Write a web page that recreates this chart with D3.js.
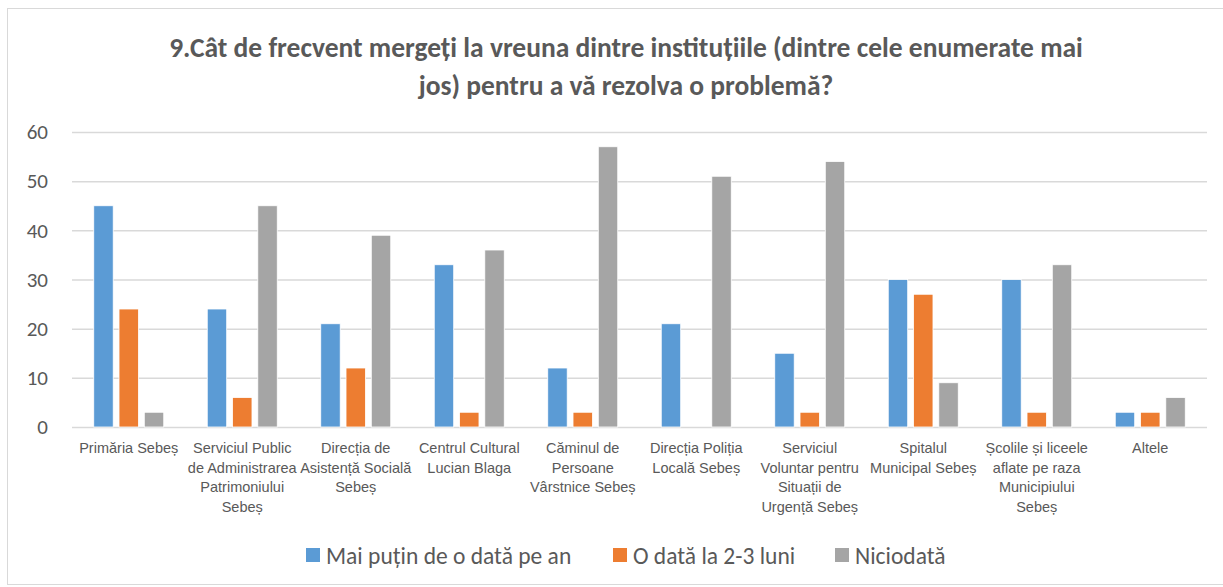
<!DOCTYPE html>
<html>
<head>
<meta charset="utf-8">
<script src="https://cdn.jsdelivr.net/npm/d3@7"></script>
<style>
  html, body { margin: 0; padding: 0; background: #fff; }
  svg { display: block; font-family: Carlito, Calibri, Lato, "Open Sans", sans-serif; }
</style>
</head>
<body>
<svg id="chart" width="1223" height="587"></svg>
<script>
const titleLines = [
  "9.Cât de frecvent mergeți la vreuna dintre instituțiile (dintre cele enumerate mai",
  "jos) pentru a vă rezolva o problemă?"
];
const categories = [
  "Primăria Sebeș",
  "Serviciul Public\nde Administrarea\nPatrimoniului\nSebeș",
  "Direcția de\nAsistență Socială\nSebeș",
  "Centrul Cultural\nLucian Blaga",
  "Căminul de\nPersoane\nVârstnice Sebeș",
  "Direcția Poliția\nLocală Sebeș",
  "Serviciul\nVoluntar pentru\nSituații de\nUrgență Sebeș",
  "Spitalul\nMunicipal Sebeș",
  "Școlile și liceele\naflate pe raza\nMunicipiului\nSebeș",
  "Altele"
];
const seriesNames = ["Mai puțin de o dată pe an", "O dată la 2-3 luni", "Niciodată"];
const seriesColors = ["#5b9bd5", "#ed7d31", "#a5a5a5"];
const maiPutin = [45, 24, 21, 33, 12, 21, 15, 30, 30, 3];
const oData = [24, 6, 12, 3, 3, 0, 3, 27, 3, 3];
const niciodata = [3, 45, 39, 36, 57, 51, 54, 9, 33, 6];
const yTicks = [0, 10, 20, 30, 40, 50, 60];

const seriesValues = [maiPutin, oData, niciodata];
const svg = d3.select("#chart");
const textColor = "#595959";

// chart border
svg.append("rect").attr("x", 7.5).attr("y", 8.5).attr("width", 1240).attr("height", 576)
  .attr("fill", "#fff").attr("stroke", "#d9d9d9").attr("stroke-width", 1);

// title
svg.append("text").attr("text-anchor", "middle").attr("fill", textColor)
  .attr("font-weight", "bold").attr("font-size", 27.5)
  .selectAll("tspan").data(titleLines).join("tspan")
  .attr("x", 626).attr("y", (d, i) => 57 + i * 38).text(d => d);

const plotLeft = 72, plotRight = 1207, plotTop = 132, plotBottom = 427;
const x = d3.scaleBand().domain(categories).range([plotLeft, plotRight]).padding(0);
const y = d3.scaleLinear().domain([0, 60]).range([plotBottom, plotTop]);
const groupW = 70;
const xs = d3.scaleBand().domain(d3.range(3)).range([0, groupW]).paddingInner(0.23).paddingOuter(0);

// gridlines
svg.append("g").selectAll("line").data(yTicks).join("line")
  .attr("x1", plotLeft).attr("x2", plotRight)
  .attr("y1", d => y(d) + 0.5).attr("y2", d => y(d) + 0.5)
  .attr("stroke", "#d9d9d9").attr("stroke-width", 1.5);

// y axis labels
const yAxis = d3.axisLeft(y).tickValues(yTicks).tickSize(0).tickPadding(0);
const yg = svg.append("g").attr("transform", `translate(${48},0)`).call(yAxis);
yg.select(".domain").remove();
yg.selectAll("text").attr("fill", textColor).attr("font-size", 21)
  .attr("font-family", "Carlito, Calibri, Lato, sans-serif");

// bars
const groups = svg.append("g").selectAll("g").data(categories).join("g")
  .attr("transform", d => `translate(${x(d) + (x.bandwidth() - groupW) / 2},0)`);
groups.selectAll("rect").data((d, i) => seriesValues.map((s, k) => ({k, v: s[i]})))
  .join("rect")
  .attr("x", d => xs(d.k))
  .attr("width", xs.bandwidth())
  .attr("y", d => y(d.v))
  .attr("height", d => y(0) - y(d.v))
  .attr("fill", d => seriesColors[d.k])
  .attr("stroke", "#fff").attr("stroke-width", 0.8);

// x axis labels
const xAxis = d3.axisBottom(x).tickSize(0).tickFormat("");
const xg = svg.append("g").attr("transform", `translate(0,${plotBottom})`).call(xAxis);
xg.select(".domain").remove();
xg.selectAll(".tick").append("text")
  .attr("text-anchor", "middle").attr("fill", textColor).attr("font-size", 14.5)
  .selectAll("tspan").data(d => d.split("\n")).join("tspan")
  .attr("x", 0).attr("y", (d, i) => 26 + i * 19.7).text(d => d);

// legend
const legendItems = [
  {name: seriesNames[0], color: seriesColors[0], x: 306},
  {name: seriesNames[1], color: seriesColors[1], x: 613},
  {name: seriesNames[2], color: seriesColors[2], x: 835}
];
const lg = svg.append("g").selectAll("g").data(legendItems).join("g")
  .attr("transform", d => `translate(${d.x},548)`);
lg.append("rect").attr("width", 14).attr("height", 14).attr("fill", d => d.color);
lg.append("text").attr("x", 20).attr("y", 15.5).attr("fill", textColor)
  .attr("font-size", 23.5).text(d => d.name);
</script>
</body>
</html>
